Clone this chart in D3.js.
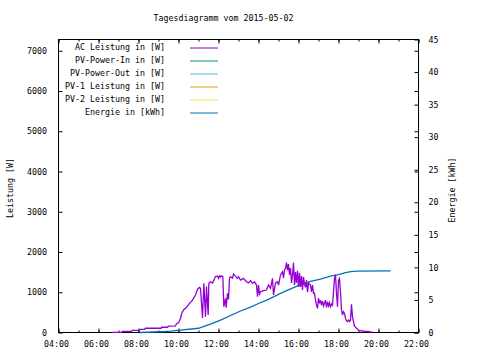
<!DOCTYPE html>
<html><head><meta charset="utf-8">
<script src="https://cdn.jsdelivr.net/npm/d3@7"></script>
<style>
body{margin:0;background:#fff;}
text{font-family:"DejaVu Sans Mono","Liberation Mono",monospace;font-size:8.3px;fill:#000;}
</style></head>
<body><svg id="c" width="480" height="360"></svg>
<script>
const title = "Tagesdiagramm vom 2015-05-02";
const xTickLabels = ["04:00","06:00","08:00","10:00","12:00","14:00","16:00","18:00","20:00","22:00"];
const yTicks = [0,1000,2000,3000,4000,5000,6000,7000];
const y2Ticks = [0,5,10,15,20,25,30,35,40,45];
const seriesNames = ["AC Leistung in [W]","PV-Power-In in [W]","PV-Power-Out in [W]","PV-1 Leistung in [W]","PV-2 Leistung in [W]","Energie in [kWh]"];
const seriesColors = ["#9400d3","#009e73","#56b4e9","#e69f00","#f0e442","#0072b2"];

const acTime = ["06:41","07:09","07:12","07:39","07:42","08:03","08:06","08:18","08:21","09:08","09:09","09:27","09:30","09:51","09:54","10:00","10:06","10:10","10:15","10:24","10:33","10:42","10:51","10:57","11:03","11:06","11:09","11:12","11:16","11:21","11:24","11:29","11:31","11:36","11:42","11:46","11:51","11:57","12:00","12:03","12:06","12:09","12:13","12:16","12:18","12:21","12:23","12:27","12:30","12:33","12:36","12:42","12:45","12:51","12:57","13:00","13:06","13:15","13:24","13:30","13:36","13:42","13:48","13:54","13:57","14:00","14:03","14:06","14:15","14:24","14:30","14:36","14:42","14:45","14:51","14:57","15:00","15:06","15:12","15:15","15:18","15:21","15:24","15:27","15:30","15:33","15:36","15:39","15:42","15:45","15:48","15:51","15:54","15:57","16:00","16:03","16:06","16:09","16:12","16:15","16:18","16:21","16:24","16:27","16:30","16:36","16:39","16:42","16:45","16:48","16:51","16:54","16:57","17:00","17:03","17:06","17:09","17:12","17:15","17:18","17:21","17:24","17:27","17:30","17:33","17:36","17:39","17:42","17:45","17:48","17:51","17:54","17:57","18:00","18:03","18:06","18:09","18:12","18:15","18:18","18:21","18:24","18:27","18:30","18:33","18:36","18:39","18:42","18:45","18:48","18:51","18:54","18:57","19:00","19:06","19:12","19:18","19:30","19:36","19:42"];
const acPower = [5,5,30,30,55,55,80,80,105,105,130,130,160,165,220,240,350,480,560,625,725,805,930,1075,1120,1100,725,360,1220,390,1140,435,1220,1260,1230,1300,1390,1400,1345,1410,1380,1410,1390,640,720,850,615,975,820,1345,1385,1350,1450,1400,1345,1385,1300,1345,1260,1230,1290,1220,1260,1180,890,1180,960,1010,1040,1055,1180,1100,1345,930,1230,1260,1180,1430,1510,1350,1550,1595,1735,1550,1700,1430,1600,1230,1430,1735,1180,1500,1230,1535,1130,1485,1130,1400,1055,1380,1200,1120,1300,1000,1230,1180,1010,1180,975,975,805,680,600,855,725,805,680,780,655,725,805,625,760,660,740,640,710,680,1010,1345,1430,975,640,1300,1345,1000,560,435,515,475,350,290,270,310,270,310,700,390,270,160,135,105,85,60,45,37,30,25,12,10];

const energyTime = ["08:04","09:21","09:36","10:06","11:00","11:36","12:06","13:06","13:36","14:00","14:30","15:06","15:36","16:00","16:36","17:06","17:36","18:00","18:21","18:36","18:54","20:36"];
const energyKWh = [0,0.15,0.2,0.35,0.65,1.3,1.9,3.3,3.9,4.45,5.1,6.0,6.7,7.2,7.85,8.2,8.65,8.9,9.2,9.35,9.42,9.45];

// series without visible data in this day
const pvInPower = [], pvOutPower = [], pv1Power = [], pv2Power = [];

const toH = s => { const [h,m] = s.split(":").map(Number); return h + m/60; };

const svg = d3.select("#c");
const L = 58.5, R = 418.5, T = 39.5, B = 332.5;
const x = d3.scaleLinear().domain([4,22]).range([L,R]);
const y = d3.scaleLinear().domain([0,7280]).range([B,T]);
const y2 = d3.scaleLinear().domain([0,45]).range([B,T]);

// title
svg.append("text").attr("x",223.5).attr("y",18.5).attr("dy","0.35em").attr("text-anchor","middle").text(title);

// axes
const xMinor = d3.range(4,23,1);
const xMajor = xTickLabels.map(toH);
function cleanAxis(g){ g.select(".domain").remove(); g.selectAll("line").attr("stroke","#000"); g.selectAll("text").style("font-family",null).style("font-size",null).attr("fill","#000"); }

svg.append("g").attr("transform",`translate(0,${B})`)
  .call(d3.axisBottom(x).tickValues(xMinor).tickSize(-2).tickFormat("")).call(cleanAxis);
const gx = svg.append("g").attr("transform",`translate(0,${B})`)
  .call(d3.axisBottom(x).tickValues(xMajor).tickSize(-4).tickPadding(8.5).tickFormat((d,i)=>xTickLabels[i])).call(cleanAxis);
gx.selectAll("text").attr("dx",-2.5).attr("font-family",null);
svg.append("g").attr("transform",`translate(0,${T})`)
  .call(d3.axisTop(x).tickValues(xMinor).tickSize(-2).tickFormat("")).call(cleanAxis);
svg.append("g").attr("transform",`translate(0,${T})`)
  .call(d3.axisTop(x).tickValues(xMajor).tickSize(-4).tickFormat("")).call(cleanAxis);

svg.append("g").attr("transform",`translate(${L},0)`)
  .call(d3.axisLeft(y).tickValues(yTicks).tickSize(-4).tickPadding(11.5).tickFormat(d3.format("d"))).call(cleanAxis);
svg.append("g").attr("transform",`translate(${R},0)`)
  .call(d3.axisRight(y).tickValues(yTicks).tickSize(-4).tickFormat("")).call(cleanAxis);
svg.append("g").attr("transform",`translate(${R},0)`)
  .call(d3.axisRight(y2).tickValues(y2Ticks).tickSize(-4).tickPadding(10).tickFormat(d3.format("d"))).call(cleanAxis);

// frame
svg.append("rect").attr("x",L).attr("y",T).attr("width",R-L).attr("height",B-T).attr("fill","none").attr("stroke","#000");

// axis labels
svg.append("text").attr("transform","translate(10,188) rotate(-90)").attr("dy","0.35em").attr("text-anchor","middle").text("Leistung [W]");
svg.append("text").attr("transform","translate(452,190) rotate(-90)").attr("dy","0.35em").attr("text-anchor","middle").text("Energie [kWh]");

// lines
const lineW = d3.line().x(d=>x(d[0])).y(d=>y(d[1]));
const lineE = d3.line().x(d=>x(d[0])).y(d=>y2(d[1]));
const emptySeries = [pvInPower,pvOutPower,pv1Power,pv2Power];
emptySeries.forEach((s,i)=>{ if(s.length) svg.append("path").datum(s).attr("d",lineW).attr("fill","none").attr("stroke",seriesColors[i+1]); });
svg.append("path").datum(energyTime.map((t,i)=>[toH(t),energyKWh[i]])).attr("d",lineE)
  .attr("fill","none").attr("stroke",seriesColors[5]).attr("stroke-width",1.3);
svg.append("path").datum(acTime.map((t,i)=>[toH(t),acPower[i]])).attr("d",lineW)
  .attr("fill","none").attr("stroke",seriesColors[0]).attr("stroke-width",1.3);

// legend
const lg = svg.append("g");
seriesNames.forEach((n,i)=>{
  const yy = 47.5 + i*13;
  lg.append("text").attr("x",165).attr("y",yy).attr("dy","0.35em").attr("text-anchor","end").text(n);
  lg.append("line").attr("x1",190).attr("x2",218).attr("y1",yy+0.5).attr("y2",yy+0.5).attr("stroke",seriesColors[i]);
});
</script></body></html>
